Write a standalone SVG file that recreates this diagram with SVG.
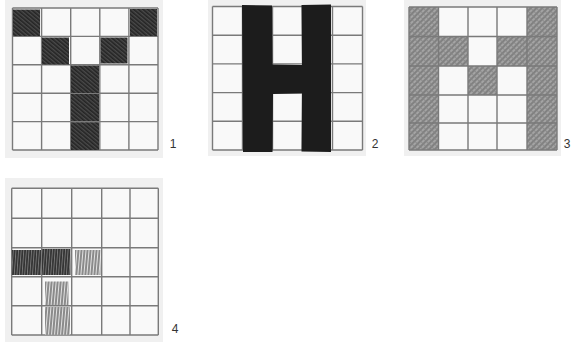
<svg xmlns="http://www.w3.org/2000/svg" width="574" height="342" viewBox="0 0 574 342">
<defs>
<style>
.bg{fill:#f0f0f0}
.cells{fill:#f9f9f9}
.grid{stroke:#7a7a7a;stroke-width:1.4;fill:none}
.lbl{font-family:"Liberation Sans",Arial,sans-serif;font-size:12px;fill:#333;text-anchor:middle}
.dk{fill:url(#hatchDark)}
.gr{fill:url(#hatchGray)}
.vs{fill:url(#vertDark)}
.vl{fill:url(#vertLight)}
</style>
<pattern id="hatchDark" width="3" height="3" patternUnits="userSpaceOnUse" patternTransform="rotate(-50)">
<rect width="3" height="3" fill="#4a4a4a"/>
<line x1="0.8" y1="0" x2="0.8" y2="3" stroke="#222" stroke-width="1.5"/>
</pattern>
<pattern id="hatchGray" width="4" height="4" patternUnits="userSpaceOnUse" patternTransform="rotate(45)">
<rect width="4" height="4" fill="#a4a4a4"/>
<line x1="1" y1="0" x2="1" y2="4" stroke="#6a6a6a" stroke-width="1.2"/>
<line x1="0" y1="2.5" x2="4" y2="2.5" stroke="#858585" stroke-width="0.8"/>
</pattern>
<pattern id="vertDark" width="2.6" height="30" patternUnits="userSpaceOnUse" patternTransform="rotate(4)">
<rect width="2.6" height="30" fill="#777"/>
<line x1="0.9" y1="0" x2="0.9" y2="30" stroke="#262626" stroke-width="1.4"/>
</pattern>
<pattern id="vertLight" width="3" height="30" patternUnits="userSpaceOnUse" patternTransform="rotate(5)">
<rect width="3" height="30" fill="#e2e2e2"/>
<line x1="1" y1="0" x2="1" y2="30" stroke="#333" stroke-width="1"/>
</pattern>
</defs>
<rect width="574" height="342" fill="#ffffff"/>

<g id="panel1">
<rect class="bg" x="5" y="0" width="158" height="158"/>
<rect class="cells" x="12.5" y="8" width="145.5" height="142"/>
<path class="grid" d="M12.5 8V150M41.6 8V150M70.7 8V150M99.8 8V150M128.9 8V150M158 8V150M12.5 8H158M12.5 36.4H158M12.5 64.8H158M12.5 93.2H158M12.5 121.6H158M12.5 150H158"/>
<rect class="dk" x="13" y="9.5" width="27" height="26.5"/>
<rect class="dk" x="130" y="9" width="27" height="27"/>
<rect class="dk" x="42" y="37.5" width="27" height="27"/>
<rect class="dk" x="100.5" y="37.5" width="27" height="26"/>
<rect class="dk" x="71" y="65.5" width="28" height="27.5"/>
<rect class="dk" x="71" y="94" width="28" height="27"/>
<rect class="dk" x="71" y="122.2" width="28" height="27.8"/>
<text class="lbl" x="173" y="148">1</text>
</g>

<g id="panel2">
<rect class="bg" x="208" y="0" width="158" height="156"/>
<rect class="cells" x="212.5" y="6.5" width="150" height="143.5"/>
<path class="grid" d="M212.5 6.5V150M242.5 6.5V150M272.5 6.5V150M302.5 6.5V150M332.5 6.5V150M362.5 6.5V150M212.5 6.5H362.5M212.5 35.2H362.5M212.5 63.9H362.5M212.5 92.6H362.5M212.5 121.3H362.5M212.5 150H362.5"/>
<path fill="#1c1c1c" d="M242 5L272 5.5L272.5 64.5L302 65L301.5 5L331 4.5L331 152L301.5 151.5L302 93.5L273 94L272.5 152L243 152Z"/>
<text class="lbl" x="375" y="148">2</text>
</g>

<g id="panel3">
<rect class="bg" x="404" y="0" width="157" height="156"/>
<rect class="cells" x="409" y="7" width="148" height="143"/>
<rect class="gr" x="409" y="7" width="29.5" height="143"/>
<rect class="gr" x="527" y="7" width="30" height="143"/>
<rect class="gr" x="438.5" y="36.5" width="29.5" height="29.5"/>
<rect class="gr" x="497" y="36.5" width="30" height="29.5"/>
<rect class="gr" x="468" y="66" width="29" height="29"/>
<path class="grid" d="M409 7V150M438.5 7V150M468 7V150M497 7V150M527 7V150M557 7V150M409 7H557M409 36.5H557M409 66H557M409 95H557M409 123H557M409 150H557"/>
<text class="lbl" x="567" y="148">3</text>
</g>

<g id="panel4">
<rect class="bg" x="5" y="178" width="158" height="164"/>
<rect class="cells" x="11.7" y="188.3" width="146.6" height="146.7"/>
<path class="grid" d="M11.7 188.3V335M41.7 188.3V335M71.7 188.3V335M101.7 188.3V335M130 188.3V335M158.3 188.3V335M11.7 188.3H158.3M11.7 218.3H158.3M11.7 247.7H158.3M11.7 276.7H158.3M11.7 305.7H158.3M11.7 335H158.3"/>
<rect class="vs" x="12" y="250" width="29" height="25"/>
<rect class="vs" x="42" y="249" width="28.5" height="26"/>
<rect class="vl" x="75" y="250" width="25.5" height="25"/>
<rect class="vl" x="45" y="281.5" width="23.5" height="23.5"/>
<rect class="vl" x="45" y="307" width="25" height="27.5"/>
<text class="lbl" x="175" y="333">4</text>
</g>
</svg>
